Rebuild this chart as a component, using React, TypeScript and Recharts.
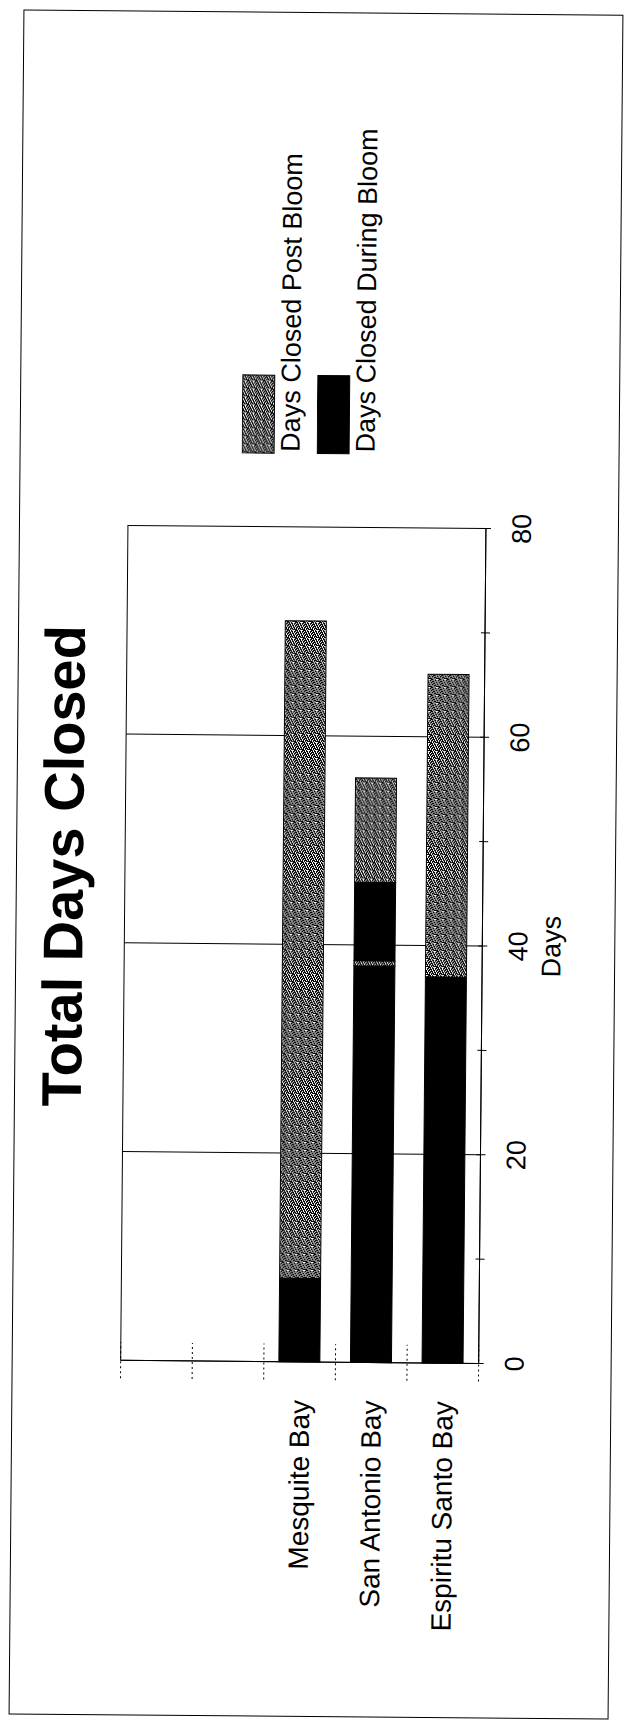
import { BarChart, Bar, XAxis, YAxis, CartesianGrid, ReferenceArea, Legend } from 'recharts'

// Closure days per bay, stacked: first bloom closure, first post-bloom closure, then a second round
const BAYS = ['', ' ', 'Mesquite Bay', 'San Antonio Bay', 'Espiritu Santo Bay']
const DURING_BLOOM = [null, null, 8, 38, 37]
const POST_BLOOM = [null, null, 63, 0.5, 29]
const DURING_BLOOM_2 = [null, null, null, 7.5, null]
const POST_BLOOM_2 = [null, null, null, 10, null]

const DAY_TICKS = [0, 10, 20, 30, 40, 50, 60, 70, 80]
const GRID_DAYS = [20, 40, 60]
const LEGEND_ORDER = ['Days Closed Post Bloom', 'Days Closed During Bloom']

const FONT = '"Liberation Sans", Arial, Helvetica, sans-serif'

// white specks on black, gives the scanned grey texture
const SPECKS = [
  [0, 0, 2], [4, 0, 1], [6, 1, 2], [2, 1, 1], [1, 2, 1], [4, 2, 2], [7, 3, 1], [0, 3, 2], [3, 3, 1],
  [5, 4, 2], [1, 4, 1], [3, 5, 2], [7, 5, 1], [0, 6, 1], [5, 6, 1], [2, 7, 2], [6, 7, 1],
]

const rows = BAYS.map((bay, i) => ({
  bay,
  during: DURING_BLOOM[i],
  post: POST_BLOOM[i],
  during2: DURING_BLOOM_2[i],
  post2: POST_BLOOM_2[i],
}))

function BayTick(props: any) {
  const { x, y, payload, index, visibleTicksCount } = props
  const half = payload?.offset || 35.8
  const edges = [y - half]
  if (index === visibleTicksCount - 1) edges.push(y + half)
  return (
    <g>
      {edges.map(e => (
        <line key={e} x1={x - 18} x2={x + 18} y1={e} y2={e} stroke="#000" strokeDasharray="2 3" />
      ))}
      <text x={x - 38} y={y} dy="0.355em" textAnchor="end" fontSize={28} fill="#000">
        {payload.value}
      </text>
    </g>
  )
}

function DayTick(props: any) {
  const { x, y, payload } = props
  const major = payload.value % 20 === 0
  return (
    <g>
      <line x1={x} x2={x} y1={y - 4} y2={y + 5} stroke="#000" />
      {major && (
        <text x={x} y={y + 45} textAnchor="middle" fontSize={27} fill="#000">
          {payload.value}
        </text>
      )}
    </g>
  )
}

function KeyBoxes(props: any) {
  const items = (props.payload ?? []).filter((p: any) => p.type !== 'none')
  const ordered = LEGEND_ORDER.map(name => items.find((p: any) => p.value === name)).filter(Boolean)
  return (
    <div style={{ position: 'relative', width: 380, height: 150, fontFamily: FONT }}>
      {ordered.map((p: any, i: number) => (
        <div key={p.value} style={{ position: 'absolute', left: 0, top: i * 75 }}>
          <svg width={82} height={34} style={{ display: 'block' }}>
            <rect x={1.5} y={0.5} width={78} height={32} fill={p.color} stroke="#000" />
          </svg>
          <div style={{ fontSize: 27, lineHeight: '27px', marginTop: 2, marginLeft: 3, whiteSpace: 'nowrap', color: '#000' }}>
            {p.value}
          </div>
        </div>
      ))}
    </div>
  )
}

export default function App() {
  return (
    <div style={{ position: 'absolute', left: 0, top: 0, width: 624, height: 1728, overflow: 'hidden', background: '#fff' }}>
      <div style={{ position: 'absolute', left: 0, top: 0, width: 624, height: 1728, transform: 'rotate(0.5deg)', transformOrigin: '50% 50%' }}>
        {/* chart is laid out landscape, then turned on its side */}
        <div
          style={{
            position: 'absolute',
            left: 0,
            top: 0,
            width: 1728,
            height: 624,
            transform: 'translateY(1728px) rotate(-90deg)',
            transformOrigin: '0 0',
            fontFamily: FONT,
            color: '#000',
          }}
        >
          <BarChart
            width={1728}
            height={624}
            data={rows}
            layout="vertical"
            margin={{ top: 125, right: 527, bottom: 51, left: 66 }}
          >
            <defs>
              <pattern id="speckle" width={8} height={8} patternUnits="userSpaceOnUse">
                <rect width={8} height={8} fill="#000" />
                {SPECKS.map(([sx, sy, w]) => (
                  <rect key={`${sx}-${sy}`} x={sx} y={sy} width={w} height={1} fill="#fff" />
                ))}
              </pattern>
            </defs>
            <CartesianGrid horizontal={false} verticalValues={GRID_DAYS} stroke="#000" strokeOpacity={1} />
            <XAxis
              type="number"
              domain={[0, 80]}
              ticks={DAY_TICKS}
              interval={0}
              height={90}
              tickSize={0}
              tickMargin={0}
              tickLine={false}
              axisLine={{ stroke: '#000' }}
              tick={<DayTick />}
              label={{ value: 'Days', position: 'insideTop', offset: 59, fill: '#000', fontSize: 27 }}
            />
            <YAxis
              type="category"
              dataKey="bay"
              width={300}
              interval={0}
              tickSize={0}
              tickMargin={0}
              tickLine={false}
              axisLine={{ stroke: '#000' }}
              tick={<BayTick />}
            />
            <ReferenceArea x1={0} x2={80} fill="none" fillOpacity={0} stroke="#000" strokeWidth={1} />
            <Legend
              layout="horizontal"
              verticalAlign="middle"
              align="center"
              content={<KeyBoxes />}
              wrapperStyle={{ position: 'absolute', top: 238, left: 1273, width: 380, height: 150 }}
            />
            <Bar dataKey="during" stackId="a" name="Days Closed During Bloom" fill="#000" stroke="#000" barSize={41} isAnimationActive={false} />
            <Bar dataKey="post" stackId="a" name="Days Closed Post Bloom" fill="url(#speckle)" stroke="#000" barSize={41} isAnimationActive={false} />
            <Bar dataKey="during2" stackId="a" name="Days Closed During Bloom (2)" legendType="none" fill="#000" stroke="#000" barSize={41} isAnimationActive={false} />
            <Bar dataKey="post2" stackId="a" name="Days Closed Post Bloom (2)" legendType="none" fill="url(#speckle)" stroke="#000" barSize={41} isAnimationActive={false} />
          </BarChart>

          <div
            style={{
              position: 'absolute',
              left: 0,
              top: 36,
              width: 1720,
              textAlign: 'center',
              fontSize: 56,
              lineHeight: '56px',
              fontWeight: 700,
              whiteSpace: 'nowrap',
            }}
          >
            Total Days Closed
          </div>

          <div
            style={{
              position: 'absolute',
              left: 11,
              top: 16,
              width: 1705,
              height: 600,
              border: '1.5px solid #000',
              boxSizing: 'border-box',
              pointerEvents: 'none',
            }}
          />
        </div>
      </div>
    </div>
  )
}
